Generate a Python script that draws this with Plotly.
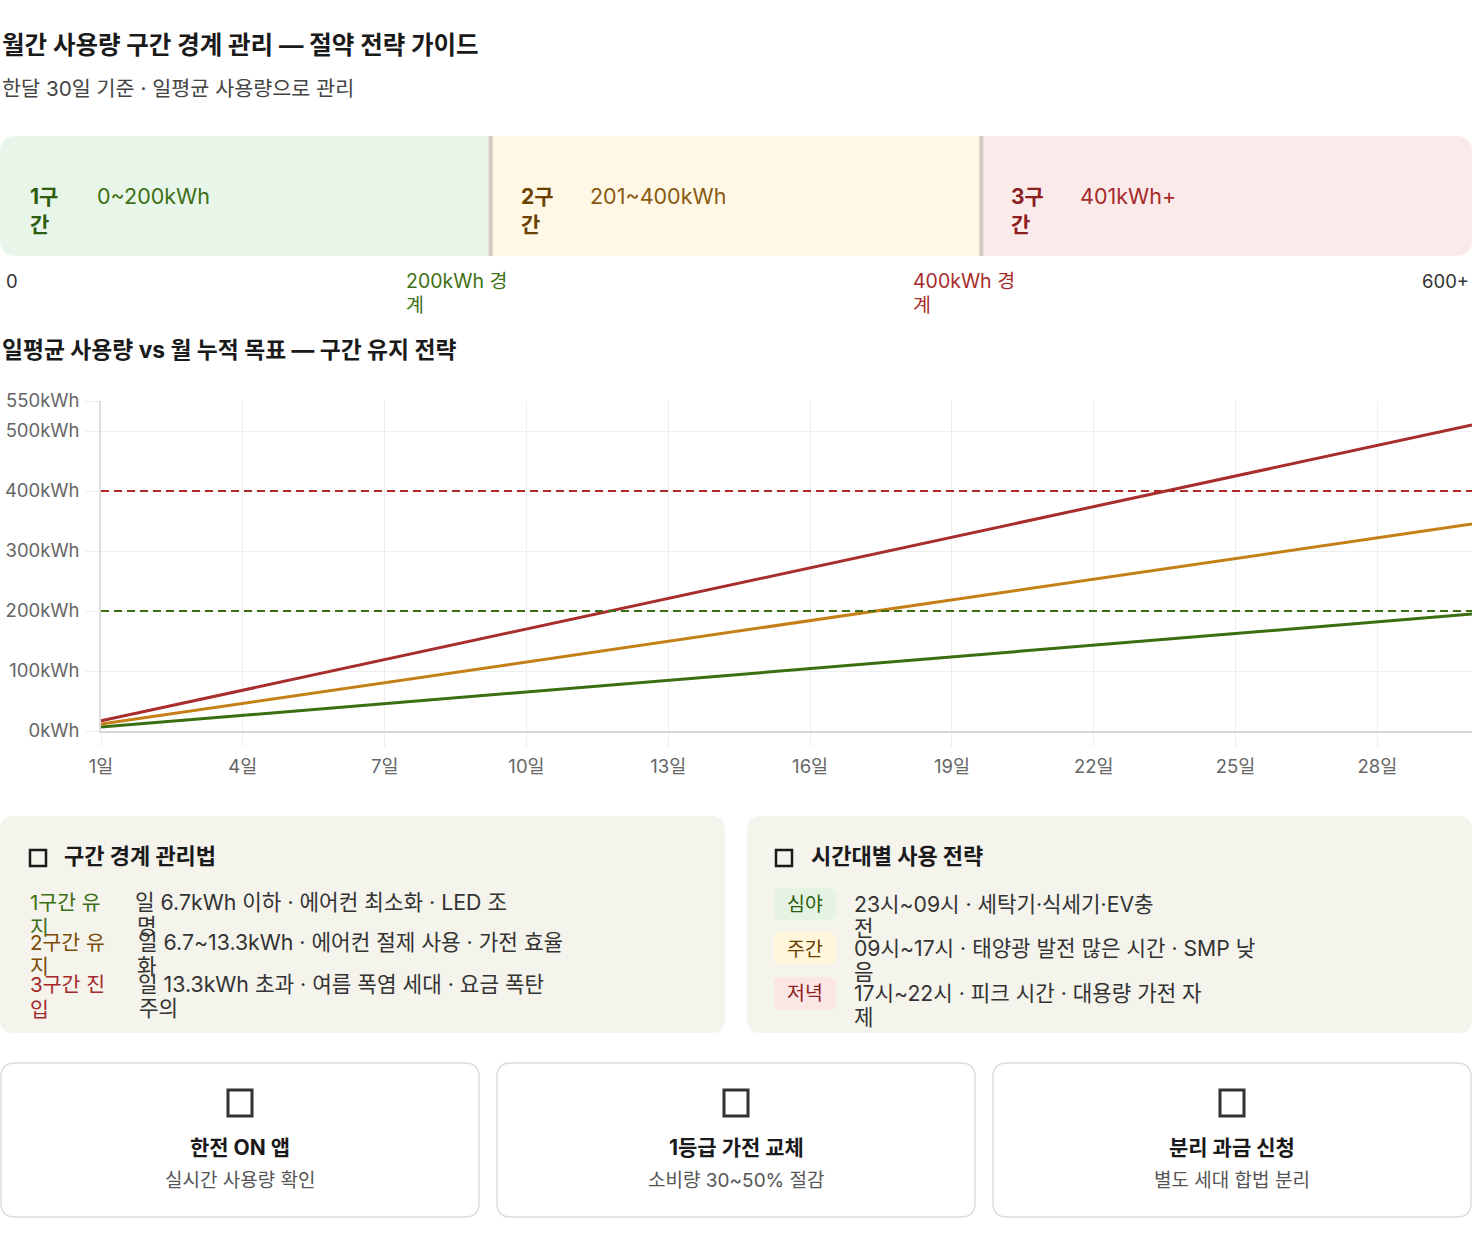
import plotly.graph_objects as go

# ---- data ----
days = list(range(1, 31))
day_ticks = [1, 4, 7, 10, 13, 16, 19, 22, 25, 28]
day_tick_labels = [f"{d}일" for d in day_ticks]

# cumulative monthly usage (kWh)
low_cum = [6.5, 13, 19.5, 26, 32.5, 39, 45.5, 52, 58.5, 65, 71.5, 78, 84.5, 91, 97.5,
           104, 110.5, 117, 123.5, 130, 136.5, 143, 149.5, 156, 162.5, 169, 175.5, 182, 188.5, 195]
mid_cum = [11.5, 23, 34.5, 46, 57.5, 69, 80.5, 92, 103.5, 115, 126.5, 138, 149.5, 161, 172.5,
           184, 195.5, 207, 218.5, 230, 241.5, 253, 264.5, 276, 287.5, 299, 310.5, 322, 333.5, 345]
high_cum = [17, 34, 51, 68, 85, 102, 119, 136, 153, 170, 187, 204, 221, 238, 255,
            272, 289, 306, 323, 340, 357, 374, 391, 408, 425, 442, 459, 476, 493, 510]

y_ticks = [0, 100, 200, 300, 400, 500, 550]
y_tick_labels = [f"{v}kWh" for v in y_ticks]
thresholds = [200, 400]

band_edges = [0, 200, 400, 600]
band_names = [["1구", "간"], ["2구", "간"], ["3구", "간"]]
band_ranges = ["0~200kWh", "201~400kWh", "401kWh+"]

rule_labels = [["1구간 유", "지"], ["2구간 유", "지"], ["3구간 진", "입"]]
rule_texts = [["일 6.7kWh 이하 · 에어컨 최소화 · LED 조", "명"],
              ["일 6.7~13.3kWh · 에어컨 절제 사용 · 가전 효율", "화"],
              ["일 13.3kWh 초과 · 여름 폭염 세대 · 요금 폭탄", "주의"]]

time_badges = ["심야", "주간", "저녁"]
time_texts = [["23시~09시 · 세탁기·식세기·EV충", "전"],
              ["09시~17시 · 태양광 발전 많은 시간 · SMP 낮", "음"],
              ["17시~22시 · 피크 시간 · 대용량 가전 자", "제"]]

tip_titles = ["한전 ON 앱", "1등급 가전 교체", "분리 과금 신청"]
tip_subs = ["실시간 사용량 확인", "소비량 30~50% 절감", "별도 세대 합법 분리"]

# ---- style ----
W, H = 1472, 1250
FONT = "Inter, Noto Sans CJK KR, sans-serif"
GREEN, ORANGE, RED = "#3b6e11", "#c47f17", "#a82d2d"
band_bg = ["#e8f5e9", "#fff8e6", "#fbeaea"]
band_title_col = ["#2e5c0e", "#6b4100", "#8c2020"]
band_range_col = ["#3e7014", "#8a5a10", "#a62b2b"]
rule_cols = ["#3a6d12", "#7a4c06", "#a52a2a"]
badge_bg = ["#e5f3e3", "#fff6dc", "#fbe5e5"]
badge_col = ["#2e5c0e", "#6b4100", "#8c2020"]


def px(x):
    return x / W


def py(y):
    return 1 - y / H


def rrect_path(x0, y0, x1, y1, r=(14, 14, 14, 14), fx=px, fy=py, rx=1.0):
    # pixel coords -> path, r = (tl, tr, br, bl); rx scales x-radii into x units
    tl, tr, br, bl = r
    pts = [
        f"M{fx(x0 + tl * rx)},{fy(y0)}",
        f"L{fx(x1 - tr * rx)},{fy(y0)}",
        f"Q{fx(x1)},{fy(y0)} {fx(x1)},{fy(y0 + tr)}",
        f"L{fx(x1)},{fy(y1 - br)}",
        f"Q{fx(x1)},{fy(y1)} {fx(x1 - br * rx)},{fy(y1)}",
        f"L{fx(x0 + bl * rx)},{fy(y1)}",
        f"Q{fx(x0)},{fy(y1)} {fx(x0)},{fy(y1 - bl)}",
        f"L{fx(x0)},{fy(y0 + tl)}",
        f"Q{fx(x0)},{fy(y0)} {fx(x0 + tl * rx)},{fy(y0)}",
        "Z",
    ]
    return " ".join(pts)


shapes = []
annotations = []


def ann(text, x, y, size, color, weight="normal", xanchor="left"):
    annotations.append(dict(
        text=text, x=px(x), y=py(y), xref="paper", yref="paper",
        xanchor=xanchor, yanchor="middle", showarrow=False,
        font=dict(family=FONT, size=size, color=color, weight=weight),
    ))


def box(x0, y0, x1, y1, fill, r=(14, 14, 14, 14), line_color=None, line_w=0):
    shapes.append(dict(
        type="path", path=rrect_path(x0, y0, x1, y1, r), xref="paper", yref="paper",
        fillcolor=fill, line=dict(color=line_color or fill, width=line_w), layer="below",
    ))


fig = go.Figure()

# ---- line chart ----
for vals, col in [(low_cum, GREEN), (mid_cum, ORANGE), (high_cum, RED)]:
    fig.add_trace(go.Scatter(x=days, y=vals, mode="lines", line=dict(color=col, width=3),
                             hoverinfo="skip", showlegend=False))

for t, col in zip(thresholds, [GREEN, "#b02a2a"]):
    shapes.append(dict(type="line", xref="x domain", yref="y", x0=0, x1=1, y0=t, y1=t,
                       line=dict(color=col, width=1.8, dash="8px,5px")))

# ---- band bar, drawn on its own 0..600 kWh axis ----
fig.add_trace(go.Scatter(x=[band_edges[0], band_edges[-1]], y=[0, 1], xaxis="x2", yaxis="y2",
                         mode="markers", marker=dict(opacity=0), hoverinfo="skip", showlegend=False))

BAND_TOP, BAND_BOT = 136, 256
KWH_PER_PX = (band_edges[-1] - band_edges[0]) / W

for i in range(3):
    x0, x1 = band_edges[i], band_edges[i + 1]
    if i == 0:
        r = (16, 0, 0, 16)
    elif i == 2:
        r = (0, 16, 16, 0)
    else:
        r = (0, 0, 0, 0)
    path = rrect_path(x0, BAND_TOP, x1, BAND_BOT, r, fx=lambda v: v, rx=KWH_PER_PX)
    shapes.append(dict(type="path", path=path, xref="x2", yref="paper",
                       fillcolor=band_bg[i], line=dict(width=0), layer="below"))
    if i > 0:
        shapes.append(dict(type="rect", xref="x2", yref="paper",
                           x0=x0 - 2 * KWH_PER_PX, x1=x0 + 2 * KWH_PER_PX,
                           y0=py(BAND_BOT), y1=py(BAND_TOP), fillcolor="#d4ccbf", line=dict(width=0)))
    for txt, shift, yy, size, col, wt in [
        (band_names[i][0], 28, 196, 21, band_title_col[i], "bold"),
        (band_names[i][1], 28, 224, 21, band_title_col[i], "bold"),
        (band_ranges[i], 95 if i == 0 else 97, 196, 21.5, band_range_col[i], "normal"),
    ]:
        annotations.append(dict(text=txt, x=x0, xshift=shift, y=py(yy), xref="x2", yref="paper",
                                xanchor="left", yanchor="middle", showarrow=False,
                                font=dict(family=FONT, size=size, color=col, weight=wt)))

ann("0", 4, 281, 18.5, "#333333")
ann("200kWh 경", 404, 281, 19.5, band_range_col[0])
ann("계", 404, 305, 19.5, band_range_col[0])
ann("400kWh 경", 911, 281, 19.5, band_range_col[2])
ann("계", 911, 305, 19.5, band_range_col[2])
ann("600+", 1471, 281, 18.5, "#333333", xanchor="right")

# ---- titles ----
ann("월간 사용량 구간 경계 관리 — 절약 전략 가이드", 0, 45, 24.5, "#1a1a1a", "bold")
ann("한달 30일 기준 · 일평균 사용량으로 관리", 0, 88, 20.7, "#444444")
ann("일평균 사용량 vs 월 누적 목표 — 구간 유지 전략", 0, 349, 22.8, "#1a1a1a", "bold")

# ---- info cards ----
CARD_BG = "#f4f3ec"
box(0, 816, 725, 1033, CARD_BG)
box(747, 816, 1472, 1033, CARD_BG)

for cx in [30, 776]:
    shapes.append(dict(type="rect", xref="paper", yref="paper", x0=px(cx), x1=px(cx + 16),
                       y0=py(866), y1=py(850), line=dict(color="#1a1a1a", width=2.5)))
ann("구간 경계 관리법", 62, 856, 22, "#1a1a1a", "bold")
ann("시간대별 사용 전략", 809, 856, 22, "#1a1a1a", "bold")

rule_y = [902, 942, 984]
for i in range(3):
    y = rule_y[i]
    ann(rule_labels[i][0], 28, y, 20.5, rule_cols[i])
    ann(rule_labels[i][1], 28, y + 25, 20.5, rule_cols[i])
    ann(rule_texts[i][0], 133 if i == 0 else 136, y, 21.3, "#333333")
    ann(rule_texts[i][1], 135 if i < 2 else 137, y + 24, 21.3, "#333333")

badge_y = [(888, 920), (932, 965), (977, 1010)]
text_y = [904, 948, 993]
for i in range(3):
    y0, y1 = badge_y[i]
    box(774, y0, 836, y1, badge_bg[i], r=(8, 8, 8, 8))
    ann(time_badges[i], 805, (y0 + y1) / 2, 19.5, badge_col[i], xanchor="center")
    ann(time_texts[i][0], 852, text_y[i], 21.2, "#333333")
    ann(time_texts[i][1], 852, text_y[i] + 24, 21.2, "#333333")

# ---- tip cards ----
tip_x = [(1, 479), (497, 975), (993, 1471)]
for i in range(3):
    x0, x1 = tip_x[i]
    box(x0, 1063, x1, 1217, "#ffffff", line_color="#dcdcdc", line_w=1.5)
    c = (x0 + x1) / 2
    shapes.append(dict(type="rect", xref="paper", yref="paper", x0=px(c - 12), x1=px(c + 12),
                       y0=py(1116), y1=py(1090), line=dict(color="#333333", width=3)))
    ann(tip_titles[i], c, 1147, 21, "#1a1a1a", "bold", xanchor="center")
    ann(tip_subs[i], c, 1180, 19, "#555555", xanchor="center")

tick_font = dict(size=18.5, color="#666666", family=FONT)
fig.update_layout(
    width=W, height=H,
    margin=dict(l=0, r=0, t=0, b=0, autoexpand=False),
    paper_bgcolor="white", plot_bgcolor="white",
    showlegend=False,
    shapes=shapes, annotations=annotations,
    font=dict(family=FONT),
    xaxis=dict(domain=[101 / W, 1], range=[1, 30], tickvals=day_ticks, ticktext=day_tick_labels,
               showgrid=True, gridcolor="#eeeeee", zeroline=False,
               showline=True, linecolor="#d6d6d6", linewidth=1.5,
               ticks="outside", ticklen=14, tickcolor="#eeeeee", ticklabelstandoff=4,
               tickfont=tick_font),
    yaxis=dict(domain=[py(731), py(401)], range=[0, 550], tickvals=y_ticks, ticktext=y_tick_labels,
               showgrid=True, gridcolor="#eeeeee", zeroline=False,
               showline=True, linecolor="#dddddd", linewidth=1.5,
               ticks="outside", ticklen=14, tickcolor="#eeeeee", ticklabelstandoff=2,
               tickfont=tick_font),
    xaxis2=dict(domain=[0, 1], range=[band_edges[0], band_edges[-1]], visible=False, anchor="y2"),
    yaxis2=dict(domain=[py(BAND_BOT), py(BAND_TOP)], range=[0, 1], visible=False, anchor="x2"),
)

fig.write_html("out.html", config={"displayModeBar": False},
               post_script="document.body.style.margin='0';")
